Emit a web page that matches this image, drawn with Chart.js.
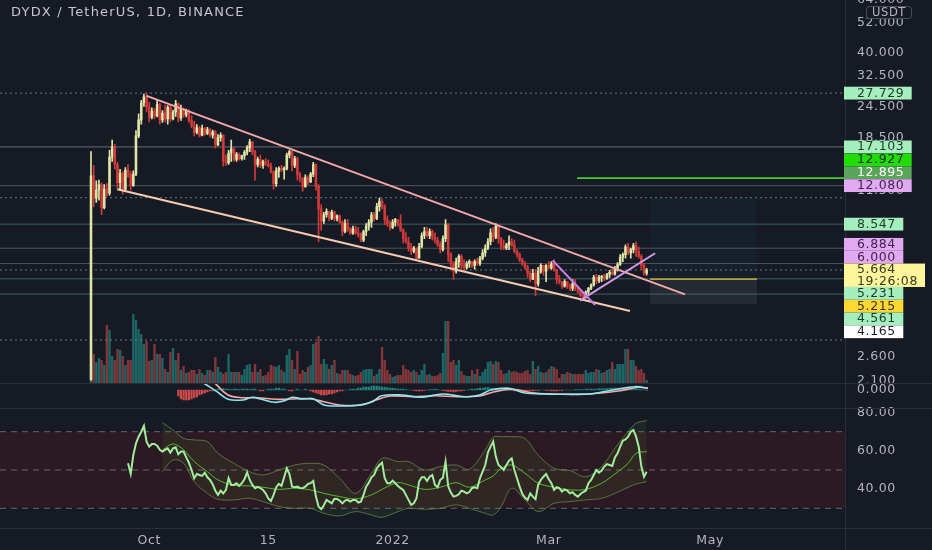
<!DOCTYPE html>
<html><head><meta charset="utf-8">
<script src="https://cdn.jsdelivr.net/npm/chart.js@4.4.1/dist/chart.umd.min.js"></script>
<style>
html,body{margin:0;padding:0;background:#161a25;overflow:hidden;}
#wrap{position:relative;width:932px;height:550px;}
</style></head><body>
<div id="wrap"><canvas id="c"></canvas></div>
<script>
// ---------------- DATA ----------------
// daily candles, index 0 = 2021-09-09
const opens = [
2.12,13.2,10.8,11.6,12.2,9.9,11.7,11.3,15.6,17.1,
14.6,12.4,13.5,11.7,13.9,13.4,12.1,13.4,18.9,21.8,
25.4,26.8,24.5,22.3,23.6,22.6,25.0,21.8,23.2,22.0,
24.4,22.0,23.4,25.2,22.2,24.0,22.8,23.6,21.7,20.7,
19.5,20.3,19.0,20.2,19.3,20.0,19.0,19.6,17.4,18.6,
19.0,15.0,14.8,16.2,16.8,15.3,16.0,15.4,15.8,16.3,
17.0,17.9,16.4,14.6,15.3,14.5,15.0,14.7,14.4,13.7,
12.3,13.8,14.1,13.9,14.1,15.9,16.4,14.5,15.4,13.3,
12.9,12.0,13.0,12.5,13.4,14.6,12.0,9.8,8.8,9.3,
9.6,9.0,9.5,9.0,9.2,8.7,8.0,8.6,8.2,7.9,
8.2,7.9,7.8,7.4,8.0,8.4,8.7,9.3,9.0,10.0,
10.5,10.0,8.9,8.6,8.3,8.7,8.9,8.6,8.1,7.5,
7.3,6.9,6.7,6.9,6.3,7.0,7.7,8.0,7.7,8.0,
7.6,7.4,7.1,6.8,7.5,8.5,6.5,6.0,5.6,6.1,
6.4,5.9,5.8,6.0,6.1,5.9,6.1,6.0,6.3,6.6,
6.9,7.3,7.9,7.6,8.4,7.5,7.0,6.9,7.1,7.3,
7.1,6.7,6.5,6.2,6.0,5.8,5.5,5.2,5.5,5.0,
5.6,5.9,5.6,5.9,5.75,6.0,5.7,5.2,5.1,4.9,
5.1,4.9,4.8,5.0,4.8,4.65,4.5,4.45,4.65,4.8,
4.95,5.3,5.15,5.3,5.35,5.25,5.45,5.55,5.45,5.75,
5.95,6.35,6.5,6.95,6.6,6.8,7.05,6.7,6.4,5.9,
5.5];
const highs = [
16.4,14.5,12.6,12.7,12.4,12.2,12.3,16.6,18.2,17.5,
14.9,14.0,13.7,14.2,14.6,13.7,13.8,19.8,23.0,26.0,
27.5,27.73,25.6,24.3,24.2,26.0,25.3,23.7,24.9,24.8,
24.9,23.8,26.0,25.4,24.9,24.3,24.0,23.9,22.6,21.5,
20.9,20.6,20.8,20.4,20.4,20.2,19.9,19.8,19.1,19.4,
19.1,15.9,16.6,18.2,17.0,16.3,16.2,15.9,16.6,17.3,
18.3,18.0,16.6,15.6,15.9,15.2,15.4,15.2,14.8,13.8,
14.2,14.3,14.5,14.3,16.2,16.6,16.5,15.7,15.6,13.6,
13.0,13.3,13.2,13.6,14.9,14.7,12.2,10.2,9.5,9.8,
9.6,9.7,9.6,9.3,9.3,8.8,8.9,8.9,8.3,8.4,
8.4,8.3,7.9,8.1,8.6,8.9,9.5,9.5,10.3,10.8,
10.7,10.2,9.2,8.8,8.9,9.0,8.9,9.3,8.2,7.9,
7.6,7.2,7.0,6.9,7.2,7.9,8.3,8.3,8.2,8.1,
7.9,7.6,7.3,7.7,8.9,8.6,6.6,6.1,6.3,6.5,
6.5,6.2,6.1,6.2,6.1,6.2,6.3,6.4,6.8,7.1,
7.5,8.2,8.3,8.6,8.5,7.6,7.4,7.2,7.7,7.5,
7.4,6.8,6.6,6.3,6.1,5.9,5.6,5.7,5.7,5.8,
6.0,5.9,5.95,6.1,6.1,6.2,5.7,5.4,5.1,5.2,
5.1,5.0,5.2,5.2,4.9,4.7,4.6,4.7,4.85,5.0,
5.4,5.45,5.4,5.4,5.45,5.5,5.65,5.7,5.85,6.05,
6.5,6.6,7.1,7.2,6.9,7.2,7.3,6.95,6.5,6.0,
5.75];
const lows = [
2.10,10.0,10.4,10.6,9.3,9.8,11.0,11.1,15.0,14.0,
11.8,11.6,11.2,11.5,13.0,11.6,12.0,13.2,18.6,21.0,
24.6,23.4,21.4,22.0,22.0,22.4,21.0,21.3,21.4,21.0,
21.4,21.8,22.5,21.4,21.7,22.3,22.4,21.3,20.3,18.9,
19.2,18.7,18.9,19.0,19.1,18.7,18.5,16.9,17.3,18.0,
14.4,14.5,14.6,15.0,15.0,15.0,15.2,15.2,15.3,15.9,
16.4,15.9,12.7,14.3,14.2,14.1,14.5,14.3,13.5,11.7,
12.0,13.0,13.7,12.8,13.9,15.5,13.8,14.2,12.7,12.5,
11.5,11.9,12.2,12.4,13.1,11.6,7.3,8.1,8.6,9.1,
8.8,8.9,8.8,8.8,8.6,7.7,7.9,8.0,7.8,7.8,
7.8,7.6,7.3,7.3,7.7,8.1,8.3,8.8,8.9,9.6,
9.8,8.5,8.4,8.1,8.2,8.4,8.4,8.0,7.2,7.2,
6.7,6.5,6.6,6.2,6.3,6.9,7.5,7.6,7.5,7.4,
7.2,7.0,6.6,6.7,7.3,6.1,5.7,5.2,5.5,5.8,
5.7,5.6,5.7,5.8,5.8,5.7,5.9,5.9,6.2,6.4,
6.8,7.1,7.3,7.5,7.2,6.8,6.8,6.8,6.8,7.0,
6.6,6.35,6.1,5.9,5.7,5.3,5.1,5.2,4.5,4.9,
5.5,5.4,5.1,5.7,5.7,5.6,5.0,5.0,4.8,4.85,
4.8,4.7,4.7,4.7,4.6,4.45,4.32,4.4,4.55,4.75,
4.9,5.0,5.05,5.1,5.15,5.2,5.3,5.4,5.4,5.6,
5.9,6.1,6.3,6.5,6.3,6.6,6.4,6.3,5.7,5.4,
5.4];
const closes = [
13.2,10.8,11.6,12.2,9.9,11.7,11.3,15.6,17.1,14.6,
12.4,13.5,11.7,13.9,13.4,12.1,13.4,18.9,21.8,25.4,
26.8,24.5,22.3,23.6,22.6,25.0,21.8,23.2,22.0,24.4,
22.0,23.4,25.2,22.2,24.0,22.8,23.6,21.7,20.7,19.5,
20.3,19.0,20.2,19.3,20.0,19.0,19.6,17.4,18.6,19.0,
15.0,14.8,16.2,16.8,15.3,16.0,15.4,15.8,16.3,17.0,
17.9,16.4,14.6,15.3,14.5,15.0,14.7,14.4,13.7,12.3,
13.8,14.1,13.9,14.1,15.9,16.4,14.5,15.4,13.3,12.9,
12.0,13.0,12.5,13.4,14.6,12.0,9.8,8.8,9.3,9.6,
9.0,9.5,9.0,9.2,8.7,8.0,8.6,8.2,7.9,8.2,
7.9,7.8,7.4,8.0,8.4,8.7,9.3,9.0,10.0,10.5,
10.0,8.9,8.6,8.3,8.7,8.9,8.6,8.1,7.5,7.3,
6.9,6.7,6.9,6.3,7.0,7.7,8.0,7.7,8.0,7.6,
7.4,7.1,6.8,7.5,8.5,6.5,6.0,5.6,6.1,6.4,
5.9,5.8,6.0,6.1,5.9,6.1,6.0,6.3,6.6,6.9,
7.3,7.9,7.6,8.4,7.5,7.0,6.9,7.1,7.3,7.1,
6.7,6.5,6.2,6.0,5.8,5.5,5.2,5.5,5.0,5.6,
5.9,5.6,5.9,5.75,6.0,5.7,5.2,5.1,4.9,5.1,
4.9,4.8,5.0,4.8,4.65,4.5,4.45,4.65,4.8,4.95,
5.3,5.15,5.3,5.35,5.25,5.45,5.55,5.45,5.75,5.95,
6.35,6.5,6.95,6.6,6.8,7.05,6.7,6.4,5.9,5.5,
5.664];
const volumes = [
45,29,21,25,23,18,58,53,27,23,
34,33,27,18,23,23,69,63,54,49,
39,42,22,23,39,29,29,25,14,11,
31,35,23,30,13,17,10,11,13,13,
9,14,10,8,13,13,11,26,16,11,
9,11,29,11,11,11,11,8,14,18,
19,11,19,11,14,7,8,11,18,17,
16,18,13,11,28,34,23,14,32,9,
13,11,16,18,39,41,47,19,24,19,
14,18,23,10,9,13,13,13,9,8,
7,8,11,13,14,14,14,7,9,
14,36,23,13,9,6,7,8,8,18,
14,13,11,13,11,8,13,19,8,9,
7,7,8,10,30,62,62,21,23,18,
23,12,8,7,7,13,9,14,7,11,
14,21,22,19,22,21,13,9,10,
13,11,12,11,10,10,12,13,9,22,
14,17,11,10,11,14,17,16,14,5,
9,9,11,10,9,9,9,9,9,
13,10,11,11,14,13,10,11,13,14,
21,14,19,19,19,34,34,23,23,
17,13,14,10,3];

// MACD (sampled reading of the lines) and histogram (from candle index 33)
const macdX = [42.7,47.6,51.8,57.4,60.8,64.4,69.2,72.8,76.2,79.7,83.9,88.1,93.7,100.7,106.3,109.8,117.5,124.5,132.9,141.3,146.9,151.1,158,163.6,172,180.4,188.8,195.8,205.6,210.5];
const macdLine = [0.67,-0.17,-0.93,-1.0,-0.73,-0.93,-1.23,-1.1,-0.73,-0.9,-0.87,-1.5,-1.6,-1.53,-1.17,-0.57,-0.5,-0.73,-0.4,-0.67,-0.5,0,0.17,-0.27,-0.4,-0.43,-0.4,-0.07,0.33,0.17];
const signalX = [46.9,51.8,57.4,63,69.9,75.5,82.5,88.1,93.7,102.1,107.7,113.3,121.7,130.1,138.5,146.9,152.5,159.5,166.4,174.8,183.2,191.6,200,207,210.5];
const signalLine = [0.67,-0.5,-0.77,-0.77,-0.93,-0.9,-0.87,-1.17,-1.5,-1.5,-1.0,-0.6,-0.67,-0.57,-0.67,-0.6,-0.17,0.07,-0.27,-0.4,-0.43,-0.33,-0.07,0.27,0.17];
const histStart = 33;
const histValues = [
-0.6,-0.9,-1.0,-1.0,-1.0,-0.9,-0.8,-0.7,
-0.5,-0.4,-0.3,-0.2,-0.1,-0.1,
0.05,0.1,0.1,0.15,0.1,0.1,0.05,0.1,0.1,0.05,0.1,0.1,0.1,0.05,
0.1,0.1,0,-0.1,-0.1,0,0.1,0.1,0.1,0.2,0.2,0.1,0.1,0,-0.1,-0.1,0,0.1,0,0,0.1,0,-0.1,-0.2,
-0.3,-0.4,-0.5,-0.5,-0.5,-0.4,-0.4,-0.3,-0.2,
-0.1,-0.1,0,0,0.1,0.1,0.1,0.2,0.2,0.3,0.3,0.3,
0.4,0.4,0.4,0.35,0.3,0.3,0.25,0.2,0.2,0.15,0.1,0.1,0.1,0.05,0,0,-0.05,
-0.1,-0.1,-0.1,-0.05,0,0.05,0.05,0.1,0.05,0,-0.05,-0.1,-0.15,-0.15,-0.2,-0.15,-0.1,-0.1,-0.05,0,0.05,0.1,0.1,0.15,
0.2,0.2,0.25,0.25,0.2,0.2,0.15,0.15,0.1,0.1,0.05,0,-0.05,-0.1,-0.1,-0.15,-0.15,-0.15,-0.1,
-0.1,-0.1,-0.05,-0.05,0,0,-0.05,-0.05,-0.1,-0.1,-0.1,-0.05,-0.05,0,0,0,0,0.05,0.05,0.05,0.05,0.1,0.1,0.1,0.1,
0.1,0.15,0.15,0.15,0.15,0.2,0.2,0.2,0.2,0.2,0.2,0.25,0.25,0.2,0.2,0.15,0.1,0.05,0,-0.05];

// RSI (from candle index 14) and its MA / bands (sampled)
const rsiStart = 14;
const rsiValues = [
53.5,48,57.8,63.9,67.4,70,73,64.8,62.2,63.6,
63.6,62.7,60.5,59.6,60.5,61.3,59.1,61.3,61.8,58.2,
59.6,59.6,56.6,53.8,50,45.7,47.9,47.4,46.9,48.6,
46.2,44.8,42.5,39.2,37,39.2,37.8,39.6,45.7,42.2,
42.2,43.1,41.7,43.1,45.2,48.8,44.8,42.2,40.5,41.2,
40.6,39.6,37.8,35.2,33.8,37,41,42.7,41.7,46.2,
50.9,47.9,41.3,41,41.3,40.6,40.5,41.3,42.7,43.1,
44.3,36.1,30.9,29.5,31.6,34.4,33.5,32.6,35,34.9,
34,32.6,34,34.4,33.5,34.4,34.4,33,33.5,37,
41.3,43.4,46.2,47.4,50.9,52.6,53.8,45.7,43.1,43.1,
44.4,43.1,41.7,40.5,39.6,37,34.4,31.8,32.6,35.2,
43.9,46.2,46.2,44.3,46.5,47.4,42.2,41,44.8,46,
54.4,41.5,38.2,36.1,36.5,37.3,39.2,38.7,37.8,38.5,
40.5,41,40.5,45.7,49.1,52.6,59.1,62.2,64.8,57,
52.6,51.4,50,52.6,54.9,56.1,50,45.7,41.3,37.5,
35.6,34.4,37.8,36.1,34.7,42.2,44.8,46.5,47.9,45.2,
43.1,39.6,41,40.5,38.7,39.9,39.2,37.8,38.4,37,
36.1,37.5,38.5,39.2,43.1,44.8,47.4,50,48.6,49.7,
51.8,53.1,52.6,52.1,56.6,58.7,62.2,65.3,66,67.4,
70,70.9,67.4,62.2,51.8,46.5,49.1];
const rsiBandX = [27,31,35,39,44,48,54,60,65,71,77,83,88,94,100,106,110,116,120,126,132,138,143,149,152,155,159,164,169,175,181,187,193,198,203,206,210];
const rsiMA = [60.5,63.6,60.5,54.4,49.1,44.8,42.0,41.7,41.0,39.9,40.5,39.6,37.8,36.1,34.9,37.0,39.9,43.4,42.2,39.9,41.0,43.4,41.0,44.8,46.9,50.9,52.6,48.3,43.1,41.0,39.6,39.9,43.1,47.9,53.5,58.7,59.6];
const bbUpper = [74.7,70.9,66.5,65.7,64.8,58.7,53.5,49.1,47.4,50.0,52.6,53.5,52.6,45.7,37.8,48.3,56.1,54.4,54.4,50.0,51.8,52.6,50.4,60.5,67.1,67.4,67.4,66.5,57.8,50.9,49.7,46.5,51.8,61.3,70.0,74.4,75.8];
const bbLower = [49.1,55.2,53.5,43.9,37.8,34.7,34.4,35.2,33.5,30.9,30.0,30.0,27.4,26.0,28.3,26.5,25.3,28.3,30.0,29.5,30.0,31.8,30.0,27.4,26.5,30.9,40.5,34.4,28.3,32.6,33.5,34.4,35.2,37.8,41.0,42.7,43.9];
const rsiLevels = [70, 50, 30];

// drawings
const hLineValues = [27.729, 17.103, 12.080, 10.84, 8.547, 6.884, 6.000, 5.664, 5.231, 4.561, 3.02];
const greenRayStart = 183.7, greenRayValue = 12.927;
const trendUpperX = [21.05, 224.5], trendUpperY = [27.04, 4.55];
const trendLowerX = [9.94, 203.7], trendLowerY = [11.69, 3.918];
const violetAX = [174.5, 190.5], violetAY = [6.168, 4.136];
const violetBX = [184.8, 213.2], violetBY = [4.298, 6.58];
const posX = [211.3, 251.7], posTarget = 10.84, posEntry = 5.215, posStop = 4.165;

// axis labels
const xTickValues = [22, 67, 114, 173, 234];
const xTickLabels = ['Oct', '15', '2022', 'Mar', 'May'];
const priceTicks = [2.1, 2.6, 11.5, 18.5, 24.5, 32.5, 40, 52, 64];
const macdTicks = [0];
const rsiTicks = [40, 60, 80];
const labelValues = [27.729, 17.103, 12.927, 12.895, 12.080, 8.547, 6.884, 6.000, 5.664, 5.231, 5.215, 4.561, 4.165];

// ---------------- STYLE ----------------
const BG = '#161a25', SEP = '#2a2e39', TXT = '#b2b5be';
const UP = '#dfe6a8', DOWN = '#d13a3a';
const VOL_UP = 'rgba(38,166,154,0.55)', VOL_DOWN = 'rgba(239,83,80,0.5)';
const X_MIN = -34.39, X_MAX = 284.96;
const MINT = '#a5efbf', LILAC = '#e2a9f3';
const labelStyles = [
  {bg: MINT, fg: '#1d3a29', w: 67.7},
  {bg: MINT, fg: '#1d3a29', w: 67.7},
  {bg: '#22dc08', fg: '#0e2a0a', w: 67.7},
  {bg: '#5aa55a', fg: '#ffffff', w: 67.7},
  {bg: LILAC, fg: '#41234d', w: 67.7},
  {bg: MINT, fg: '#1d3a29', w: 59.3},
  {bg: LILAC, fg: '#41234d', w: 59.3},
  {bg: LILAC, fg: '#41234d', w: 59.3},
  {bg: '#fff59d', fg: '#3b3a1c', w: 81, anchor: true, sub: '19:26:08'},
  {bg: MINT, fg: '#1d3a29', w: 59.3},
  {bg: '#fdd835', fg: '#3b3210', w: 59.3},
  {bg: MINT, fg: '#1d3a29', w: 59.3},
  {bg: '#ffffff', fg: '#1e222d', w: 59.3}
];
const GRAY = 'rgba(125,130,142,0.55)', GRAYL = 'rgba(160,165,175,0.6)', TEAL = 'rgba(85,140,135,0.6)', DOT = 'rgba(140,144,155,0.75)';
const hLineStyles = [
  {c: DOT, d: [2,3]}, {c: GRAYL, d: []}, {c: GRAY, d: []}, {c: DOT, d: [2,3]},
  {c: TEAL, d: []}, {c: GRAY, d: []}, {c: GRAY, d: []}, {c: DOT, d: [2,3]},
  {c: TEAL, d: []}, {c: TEAL, d: []}, {c: DOT, d: [2,3]}
];

Chart.defaults.font.family = "'DejaVu Sans', sans-serif";
Chart.defaults.font.size = 12.5;

// ---------------- DATASETS ----------------
const pts = (xs, ys) => xs.map((x, i) => ({x, y: ys[i]}));
const flat = (v, x0, x1) => [{x: x0, y: v}, {x: x1, y: v}];
const isUp = i => closes[i] >= opens[i];
const lineBase = {type: 'line', pointRadius: 0, borderWidth: 1, fill: false, tension: 0};

const datasets = [];
datasets.push({...lineBase, yAxisID: 'yRsi', data: flat(70, X_MIN, X_MAX), borderWidth: 0,
  fill: {value: 30}, backgroundColor: 'rgba(130,30,30,0.2)', order: 100});
rsiLevels.forEach(v => datasets.push({...lineBase, yAxisID: 'yRsi', data: flat(v, X_MIN, X_MAX),
  borderColor: 'rgba(120,123,134,0.8)', borderDash: [6, 5], order: 95}));
datasets.push({...lineBase, yAxisID: 'yRsi', data: pts(rsiBandX, bbUpper), borderColor: 'rgba(120,165,80,0.6)',
  tension: 0.35, fill: '+1', backgroundColor: 'rgba(100,160,60,0.10)', order: 60});
datasets.push({...lineBase, yAxisID: 'yRsi', data: pts(rsiBandX, bbLower), borderColor: 'rgba(120,165,80,0.6)',
  tension: 0.35, order: 60});
datasets.push({...lineBase, yAxisID: 'yRsi', data: pts(rsiBandX, rsiMA), borderColor: '#58b832', tension: 0.35, order: 55});
datasets.push({...lineBase, yAxisID: 'yRsi', data: rsiValues.map((v, i) => ({x: rsiStart + i, y: v})),
  borderColor: '#a3ec9d', borderWidth: 2, order: 50});

datasets.push({...lineBase, yAxisID: 'yPrice', data: flat(posTarget, posX[0], posX[1]), borderWidth: 0,
  fill: {value: posEntry}, backgroundColor: 'rgba(38,166,154,0.05)', order: 99});
datasets.push({...lineBase, yAxisID: 'yPrice', data: flat(posEntry, posX[0], posX[1]), borderWidth: 0,
  fill: {value: posStop}, backgroundColor: 'rgba(190,195,210,0.09)', order: 99});
hLineValues.forEach((v, i) => datasets.push({...lineBase, yAxisID: 'yPrice', data: flat(v, X_MIN, X_MAX),
  borderColor: hLineStyles[i].c, borderDash: hLineStyles[i].d, order: 90}));
datasets.push({...lineBase, yAxisID: 'yPrice', data: flat(greenRayValue, greenRayStart, X_MAX),
  borderColor: '#3fcf2a', borderWidth: 1.6, order: 85});
datasets.push({...lineBase, yAxisID: 'yPrice', data: flat(posEntry, posX[0], posX[1]),
  borderColor: '#e3c53a', borderWidth: 1.4, order: 85});

datasets.push({type: 'bar', yAxisID: 'yVol', grouped: false, barThickness: 1.7, borderWidth: 0,
  data: volumes.map((v, i) => ({x: i, y: v})),
  backgroundColor: c => isUp(c.dataIndex) ? VOL_UP : VOL_DOWN, order: 80});

datasets.push({type: 'bar', yAxisID: 'yMacd', grouped: false, barThickness: 1.6, borderWidth: 0,
  data: histValues.map((v, i) => ({x: histStart + i, y: v})),
  backgroundColor: c => (histValues[c.dataIndex] >= 0 ? 'rgba(38,166,154,0.75)' : 'rgba(239,83,80,0.85)'), order: 70});
datasets.push({...lineBase, yAxisID: 'yMacd', data: pts(signalX, signalLine), borderColor: '#f5a8a8',
  borderWidth: 1.6, tension: 0.35, order: 66});
datasets.push({...lineBase, yAxisID: 'yMacd', data: pts(macdX, macdLine), borderColor: '#8fe6ef',
  borderWidth: 1.6, tension: 0.35, order: 65});

datasets.push({type: 'bar', yAxisID: 'yPrice', grouped: false, barThickness: 1, borderWidth: 0,
  data: opens.map((o, i) => ({x: i, y: [lows[i], highs[i]]})),
  backgroundColor: c => isUp(c.dataIndex) ? UP : DOWN, order: 40});
datasets.push({type: 'bar', yAxisID: 'yPrice', grouped: false, barThickness: 1.9, borderWidth: 0, minBarLength: 1,
  data: opens.map((o, i) => ({x: i, y: [Math.min(o, closes[i]), Math.max(o, closes[i])]})),
  backgroundColor: c => isUp(c.dataIndex) ? UP : DOWN, order: 39});

datasets.push({...lineBase, yAxisID: 'yPrice', data: pts(trendUpperX, trendUpperY), borderColor: '#f2a9ab', borderWidth: 2, order: 10});
datasets.push({...lineBase, yAxisID: 'yPrice', data: pts(trendLowerX, trendLowerY), borderColor: '#f6ccb0', borderWidth: 2, order: 10});
datasets.push({...lineBase, yAxisID: 'yPrice', data: pts(violetAX, violetAY), borderColor: '#c57fe0', borderWidth: 2, order: 9});
datasets.push({...lineBase, yAxisID: 'yPrice', data: pts(violetBX, violetBY), borderColor: '#d49ae9', borderWidth: 2, order: 9});

// ---------------- PLUGINS ----------------
const bgPlugin = {id: 'bg',
  beforeLayout(ch) { ch.ctx.letterSpacing = '0.6px'; },
  beforeDraw(ch) { const c = ch.ctx; c.save(); c.fillStyle = BG; c.fillRect(0, 0, ch.width, ch.height); c.restore(); c.letterSpacing = '0.6px'; }};
const decoPlugin = {
  id: 'deco',
  afterDraw(ch) {
    const c = ch.ctx, W = ch.width, H = ch.height;
    const a = ch.chartArea;
    c.save();
    c.strokeStyle = SEP; c.lineWidth = 1;
    const yM = ch.scales.yMacd, yR = ch.scales.yRsi;
    [yM.top, yR.top, a.bottom].forEach(y => { c.beginPath(); c.moveTo(0, Math.round(y) + 0.5); c.lineTo(W, Math.round(y) + 0.5); c.stroke(); });
    c.beginPath(); c.moveTo(Math.round(a.right) + 0.5, 0); c.lineTo(Math.round(a.right) + 0.5, H); c.stroke();
    const ys = ch.scales.yPrice;
    const H1 = 12.8, H2 = 23.4, LEFT = a.right - 1, TX = a.right + 12;
    const items = labelValues.map((v, i) => { const st = labelStyles[i]; return {v, st, h: st.sub ? H2 : H1, top: ys.getPixelForValue(v) - H1 / 2}; });
    const k0 = items.findIndex(it => it.st.anchor);
    for (let k = k0 + 1; k < items.length; k++) items[k].top = Math.max(items[k].top, items[k - 1].top + items[k - 1].h);
    for (let k = k0 - 1; k >= 0; k--) items[k].top = Math.min(items[k].top, items[k + 1].top - items[k].h);
    c.letterSpacing = '0.6px';
    c.font = "12.5px 'DejaVu Sans'"; c.textBaseline = 'middle'; c.textAlign = 'left';
    items.forEach(it => {
      c.fillStyle = it.st.bg; c.fillRect(LEFT, it.top, it.st.w, it.h);
      c.fillStyle = it.st.fg; c.fillText(it.v.toFixed(3), TX, it.top + 6.6);
      if (it.st.sub) c.fillText(it.st.sub, TX, it.top + 18.4);
    });
    c.fillStyle = BG; c.strokeStyle = '#4a4e5a';
    c.beginPath(); c.roundRect(866.5, 6.5, 45, 12, 3); c.fill(); c.stroke();
    c.fillStyle = TXT; c.textAlign = 'center'; c.font = "11.5px 'DejaVu Sans'";
    c.fillText('USDT', 889, 12.8);
    c.letterSpacing = '1.2px';
    c.textAlign = 'left'; c.font = "13px 'DejaVu Sans'"; c.fillStyle = '#c3c6ce';
    c.fillText('DYDX / TetherUS, 1D, BINANCE', 11, 12.5);
    c.restore();
  }
};

// ---------------- CHART ----------------
const yAxisCommon = (ticksArr, dec) => ({
  position: 'right', display: true,
  grid: {display: false, drawTicks: false},
  border: {display: false},
  ticks: {color: TXT, padding: 12, autoSkip: false, callback: v => Number(v).toFixed(dec)},
  afterBuildTicks: s => { s.ticks = ticksArr.map(v => ({value: v})); },
  afterFit: s => { s.width = 87; s.paddingTop = 0; s.paddingBottom = 0; }
});

new Chart(document.getElementById('c'), {
  type: 'line',
  data: {datasets},
  options: {
    responsive: true, maintainAspectRatio: false, animation: false, events: [],
    layout: {padding: 0, autoPadding: false},
    plugins: {legend: {display: false}, tooltip: {enabled: false}, title: {display: false}},
    scales: {
      x: {type: 'linear', min: X_MIN, max: X_MAX, offset: false, position: 'bottom',
        grid: {display: false, drawTicks: false}, border: {display: false},
        ticks: {color: TXT, padding: 5, autoSkip: false, maxRotation: 0,
          callback: v => { const i = xTickValues.indexOf(v); return i >= 0 ? xTickLabels[i] : ''; }},
        afterBuildTicks: s => { s.ticks = xTickValues.map(v => ({value: v})); },
        afterFit: s => { s.height = 22; s.paddingLeft = 0; s.paddingRight = 0; }},
      yPrice: {...yAxisCommon(priceTicks, 3), type: 'logarithmic', min: 2.0464, max: 64, stack: 'pane', stackWeight: 383.3},
      yMacd: {...yAxisCommon(macdTicks, 3), type: 'linear', min: -1.83, max: 0.67, stack: 'pane', stackWeight: 25},
      yRsi: {...yAxisCommon(rsiTicks, 2), type: 'linear', min: 19.72, max: 82.21, stack: 'pane', stackWeight: 119.7},
      yVol: {type: 'linear', display: false, position: 'right', min: 0, max: 383.3, stack: 'vol', stackWeight: 383.3},
      yFill: {type: 'linear', display: false, position: 'right', min: 0, max: 1, stack: 'vol', stackWeight: 144.7}
    }
  },
  plugins: [bgPlugin, decoPlugin]
});
</script>
</body></html>
